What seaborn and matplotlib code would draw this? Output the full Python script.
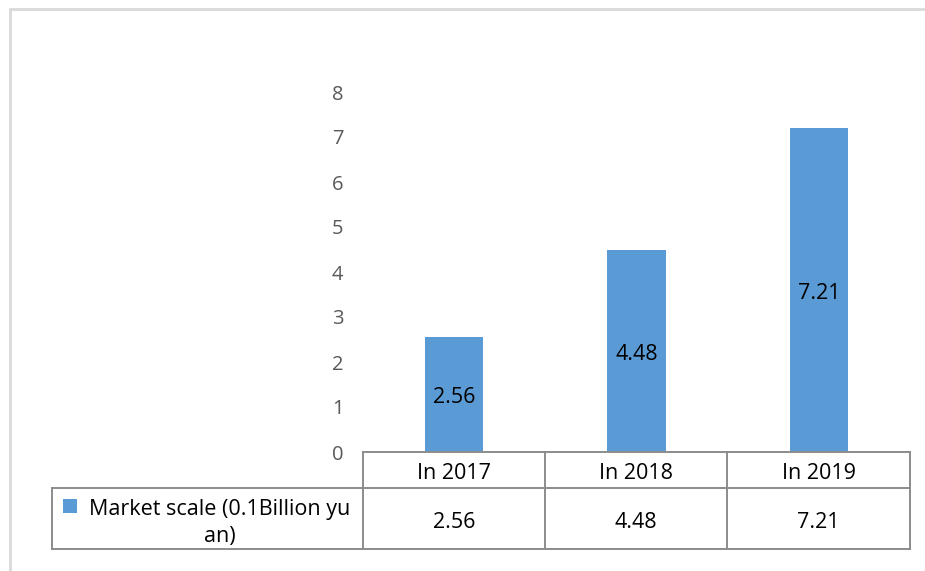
import matplotlib
matplotlib.use("Agg")
import matplotlib.pyplot as plt
from matplotlib.lines import Line2D
from matplotlib.patches import Rectangle
import seaborn as sns
import pandas as pd

# ---- data ----
categories = ["In 2017", "In 2018", "In 2019"]
values = [2.56, 4.48, 7.21]
series_name = "Market scale (0.1Billion yu\nan)"
y_ticks = [0, 1, 2, 3, 4, 5, 6, 7, 8]

BAR = "#5B9BD5"
GRID = "#8C8C8C"
FRAME = "#D9D9D9"

sns.set_theme(style="white")
plt.rcParams["font.family"] = ["Open Sans", "DejaVu Sans"]

W, H = 925, 571
fig = plt.figure(figsize=(W / 100, H / 100), dpi=100)

def fx(x):
    return x / W

def fy(y):
    return 1 - y / H

FS = 15.5

# plot area
left, right, top, bottom = 363, 910, 92, 452
ax = fig.add_axes([fx(left), fy(bottom), fx(right) - fx(left), fy(top) - fy(bottom)])

df = pd.DataFrame({"cat": categories, "val": values})
sns.barplot(data=df, x="cat", y="val", color=BAR, width=0.32, ax=ax,
            saturation=1, edgecolor="none")
ax.set_xlim(-0.5, 2.5)
ax.set_ylim(0, 8)
ax.set_yticks(y_ticks)
ax.set_yticklabels([str(t) for t in y_ticks], color="#595959", fontsize=14.5)
ax.tick_params(axis="y", length=0, pad=14)
ax.set_xticks([])
ax.set_xlabel("")
ax.set_ylabel("")
for s in ax.spines.values():
    s.set_visible(False)

# bar labels centered inside bars
for i, v in enumerate(values):
    ax.annotate(f"{v:.2f}", (i, v / 2), xytext=(0, -2.5), textcoords="offset points",
                ha="center", va="center", fontsize=FS, color="black")

# ---- data table ----
col_edges = [363, 545, 727, 910]
leg_left = 52
row_top, row_mid, row_bot = 452, 488, 549

def hline(y, x0, x1):
    fig.add_artist(Line2D([fx(x0), fx(x1)], [fy(y), fy(y)], color=GRID, lw=1.4,
                          transform=fig.transFigure, solid_capstyle="projecting"))

def vline(x, y0, y1):
    fig.add_artist(Line2D([fx(x), fx(x)], [fy(y0), fy(y1)], color=GRID, lw=1.4,
                          transform=fig.transFigure, solid_capstyle="projecting"))

hline(row_top, col_edges[0], col_edges[-1])
hline(row_mid, leg_left, col_edges[-1])
hline(row_bot, leg_left, col_edges[-1])
for x in col_edges:
    vline(x, row_top, row_bot)
vline(leg_left, row_mid, row_bot)

for i, cat in enumerate(categories):
    cx = (col_edges[i] + col_edges[i + 1]) / 2
    fig.text(fx(cx), fy((row_top + row_mid) / 2 + 3.5), cat, ha="center", va="center",
             fontsize=FS, color="black")
    fig.text(fx(cx), fy((row_mid + row_bot) / 2 + 4.5), f"{values[i]:.2f}", ha="center",
             va="center", fontsize=FS, color="black")

# legend cell
fig.add_artist(Rectangle((fx(63), fy(513)), fx(77) - fx(63), fy(499) - fy(513),
                         facecolor=BAR, edgecolor="none", transform=fig.transFigure))
fig.text(fx(220), fy(523), series_name, ha="center", va="center", fontsize=FS,
         color="black", linespacing=1.38)

# outer chart frame (partially visible)
fig.add_artist(Line2D([fx(10), fx(930)], [fy(9), fy(9)], color=FRAME, lw=2,
                      transform=fig.transFigure))
fig.add_artist(Line2D([fx(10), fx(10)], [fy(9), fy(580)], color=FRAME, lw=2,
                      transform=fig.transFigure))

fig.savefig("out.png", dpi=100)
